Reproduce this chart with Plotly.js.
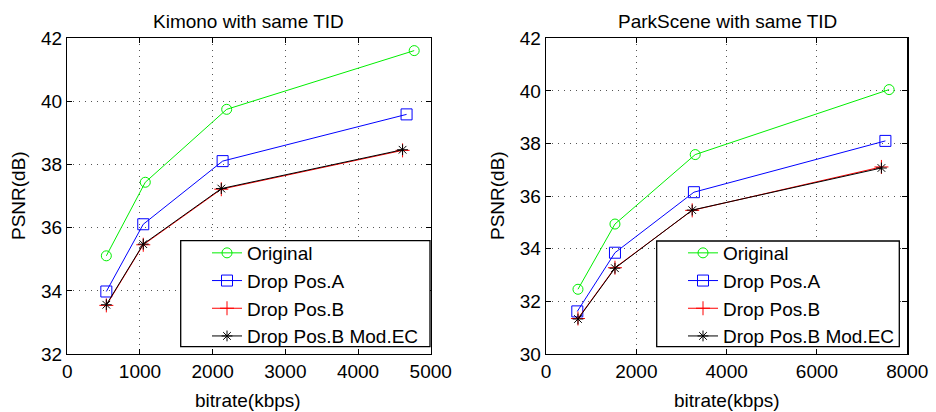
<!DOCTYPE html>
<html>
<head>
<meta charset="utf-8">
<script src="https://cdn.plot.ly/plotly-3.0.1.min.js"></script>
<style>html,body{margin:0;padding:0;background:#fff}#chart{width:936px;height:412px}</style>
</head>
<body>
<div id="chart"></div>
<script>
// Kimono (left)
const kimonoOrigX = [537, 1073, 2193, 4773];
const kimonoOrigY = [35.11, 37.44, 39.75, 41.61];
const kimonoAX = [537, 1045, 2137, 4668];
const kimonoAY = [33.98, 36.11, 38.11, 39.59];
const kimonoBX = [537, 1045, 2119, 4613];
const kimonoBY = [33.54, 35.46, 37.22, 38.45];
const kimonoECX = [537, 1045, 2119, 4613];
const kimonoECY = [33.56, 35.48, 37.24, 38.47];
// ParkScene (right)
const parkOrigX = [708, 1527, 3304, 7597];
const parkOrigY = [32.46, 34.94, 37.58, 40.05];
const parkAX = [693, 1527, 3275, 7515];
const parkAY = [31.62, 33.85, 36.15, 38.10];
const parkBX = [708, 1527, 3237, 7427];
const parkBY = [31.35, 33.28, 35.46, 37.11];
const parkECX = [708, 1527, 3237, 7427];
const parkECY = [31.33, 33.26, 35.47, 37.07];

const seriesNames = ['Original', 'Drop Pos.A', 'Drop Pos.B', 'Drop Pos.B Mod.EC'];
const titles = ['Kimono with same TID', 'ParkScene with same TID'];
const xLabel = 'bitrate(kbps)';
const yLabel = 'PSNR(dB)';

const styles = [
  {color: '#00ee00', symbol: 'circle-open', size: 10},
  {color: '#0000ff', symbol: 'square-open', size: 11},
  {color: '#ff0000', symbol: 'cross-thin-open', size: 10},
  {color: '#000000', symbol: 'asterisk-open', size: 9}
];

function mk(x, y, i, xa, ya, leg) {
  const s = styles[i];
  return {
    x: x, y: y, type: 'scatter', mode: 'lines+markers', name: seriesNames[i],
    xaxis: xa, yaxis: ya, legend: leg,
    line: {color: s.color, width: 1},
    marker: {symbol: s.symbol, size: s.size, color: s.color, line: {color: s.color, width: 1}}
  };
}

const data = [
  mk(kimonoOrigX, kimonoOrigY, 0, 'x', 'y', 'legend'),
  mk(kimonoAX, kimonoAY, 1, 'x', 'y', 'legend'),
  mk(kimonoBX, kimonoBY, 2, 'x', 'y', 'legend'),
  mk(kimonoECX, kimonoECY, 3, 'x', 'y', 'legend'),
  mk(parkOrigX, parkOrigY, 0, 'x2', 'y2', 'legend2'),
  mk(parkAX, parkAY, 1, 'x2', 'y2', 'legend2'),
  mk(parkBX, parkBY, 2, 'x2', 'y2', 'legend2'),
  mk(parkECX, parkECY, 3, 'x2', 'y2', 'legend2')
];

const W = 936, H = 412;
const fnt = {family: 'Liberation Sans, Arial, sans-serif', size: 19, color: '#000'};
function ax(extra) {
  return Object.assign({
    ticks: 'inside', ticklen: 5, tickwidth: 1, tickcolor: '#000',
    showline: true, mirror: 'ticks', linecolor: '#000', linewidth: 1.3,
    showgrid: true, gridcolor: '#555', griddash: '1px,5px', gridwidth: 1,
    zeroline: false, tickfont: fnt, fixedrange: true
  }, extra);
}
const yDom = [1 - 354 / H, 1 - 38.3 / H];
const legBase = {
  font: fnt, bgcolor: 'rgba(0,0,0,0)', borderwidth: 0,
  traceorder: 'normal', xanchor: 'left', yanchor: 'top'
};

const layout = {
  width: W, height: H,
  margin: {l: 0, r: 0, t: 0, b: 0},
  paper_bgcolor: '#fff', plot_bgcolor: '#fff',
  font: fnt,
  xaxis: ax({domain: [67.3 / W, 430.7 / W], range: [0, 5000], dtick: 1000, anchor: 'y'}),
  yaxis: ax({domain: yDom, range: [32, 42], dtick: 2, anchor: 'x'}),
  xaxis2: ax({domain: [546 / W, 907.3 / W], range: [0, 8000], dtick: 2000, anchor: 'y2'}),
  yaxis2: ax({domain: yDom, range: [30, 42], dtick: 2, anchor: 'x2'}),
  legend: Object.assign({}, legBase, {x: 207 / W, y: 1 - 234 / H}),
  legend2: Object.assign({}, legBase, {x: 683 / W, y: 1 - 234 / H}),
  shapes: [
    {type: 'rect', xref: 'paper', yref: 'paper', x0: 180.7 / W, x1: 430 / W, y0: 1 - 346.7 / H, y1: 1 - 240.7 / H, line: {color: '#000', width: 1.3}, fillcolor: 'rgba(255,255,255,1)', layer: 'above'},
    {type: 'rect', xref: 'paper', yref: 'paper', x0: 656.7 / W, x1: 899.3 / W, y0: 1 - 346.7 / H, y1: 1 - 241 / H, line: {color: '#000', width: 1.3}, fillcolor: 'rgba(255,255,255,1)', layer: 'above'}
  ],
  annotations: [
    {text: titles[0], xref: 'paper', yref: 'paper', x: 248 / W, y: 1 - 22 / H, showarrow: false, font: fnt, xanchor: 'center', yanchor: 'middle'},
    {text: titles[1], xref: 'paper', yref: 'paper', x: 727 / W, y: 1 - 22 / H, showarrow: false, font: fnt, xanchor: 'center', yanchor: 'middle'},
    {text: xLabel, xref: 'paper', yref: 'paper', x: 248 / W, y: 1 - 400 / H, showarrow: false, font: fnt, xanchor: 'center', yanchor: 'middle'},
    {text: xLabel, xref: 'paper', yref: 'paper', x: 727 / W, y: 1 - 400 / H, showarrow: false, font: fnt, xanchor: 'center', yanchor: 'middle'},
    {text: yLabel, xref: 'paper', yref: 'paper', x: 18 / W, y: 1 - 196 / H, showarrow: false, font: fnt, textangle: -90, xanchor: 'center', yanchor: 'middle'},
    {text: yLabel, xref: 'paper', yref: 'paper', x: 497 / W, y: 1 - 196 / H, showarrow: false, font: fnt, textangle: -90, xanchor: 'center', yanchor: 'middle'}
  ]
};

Plotly.newPlot('chart', data, layout, {displayModeBar: false, staticPlot: true});
</script>
</body>
</html>
